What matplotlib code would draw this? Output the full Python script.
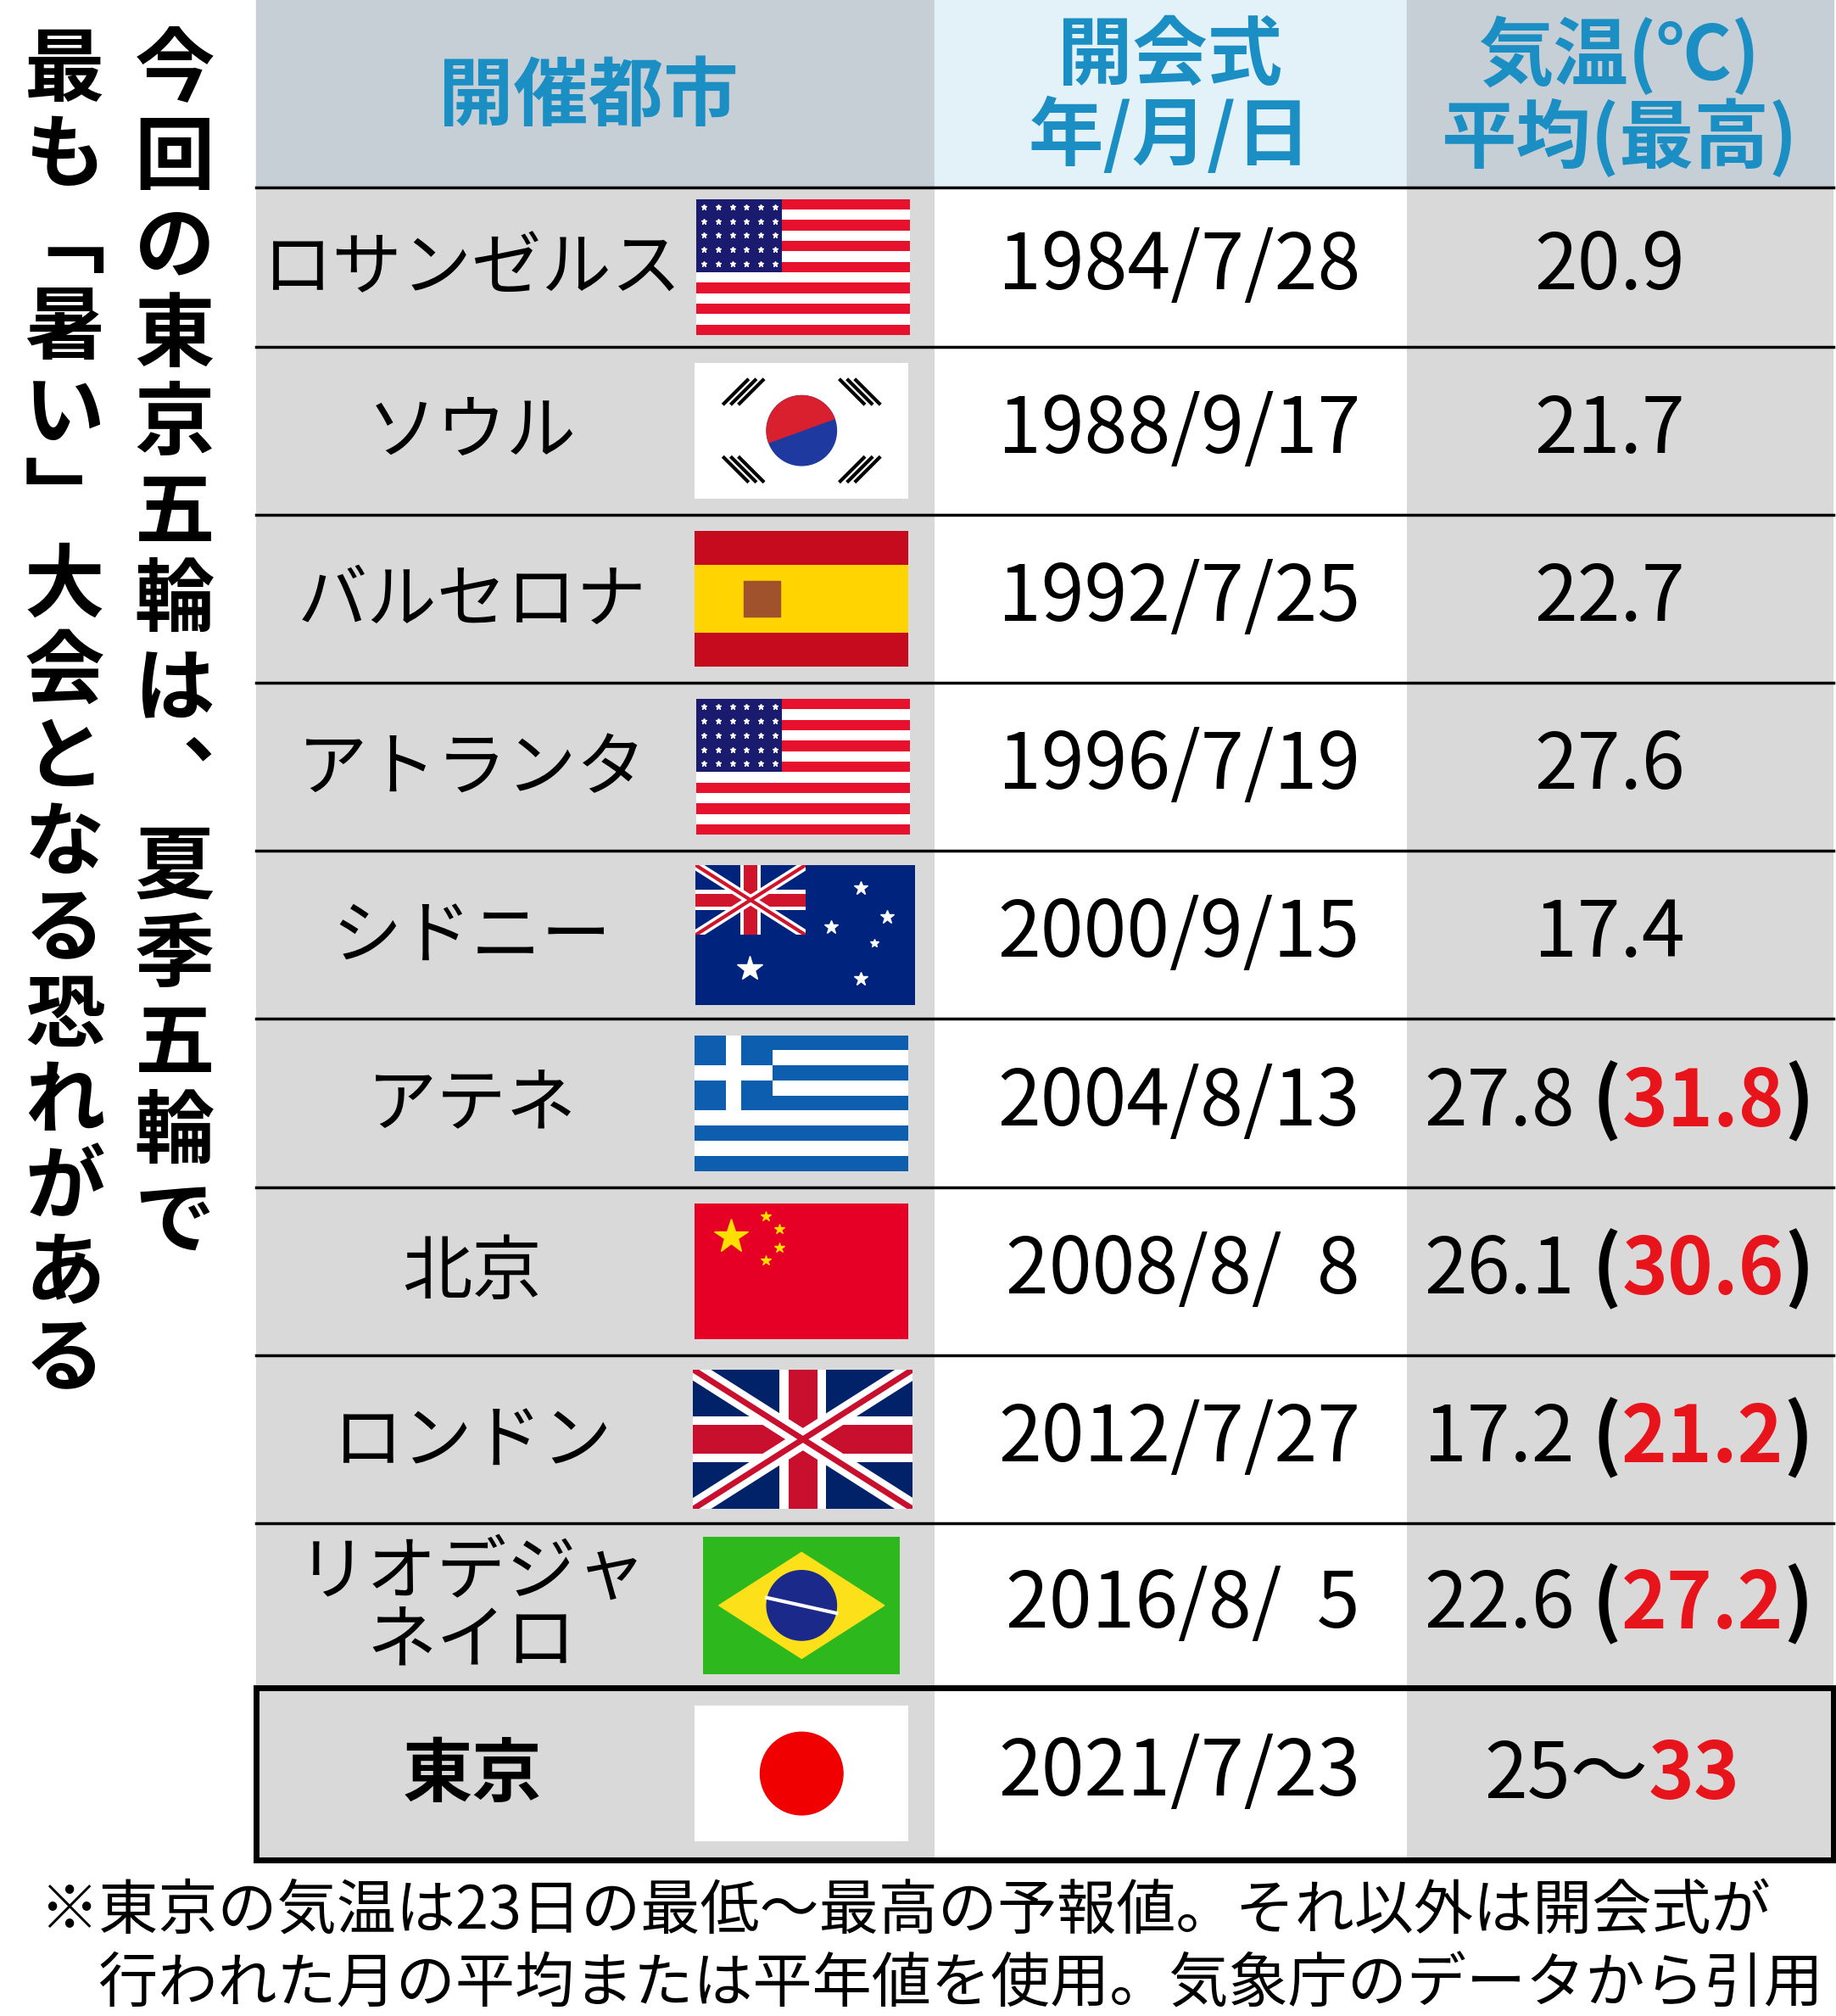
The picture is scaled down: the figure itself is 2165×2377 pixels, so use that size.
import matplotlib
matplotlib.use('Agg')
import matplotlib.pyplot as plt
from matplotlib.patches import Rectangle, Circle, Polygon, Wedge
import numpy as np

plt.rcParams['font.family'] = ['Noto Sans CJK JP', 'DejaVu Sans']

cities = ['ロサンゼルス', 'ソウル', 'バルセロナ', 'アトランタ', 'シドニー', 'アテネ',
          '北京', 'ロンドン', 'リオデジャ\nネイロ', '東京']
flags = ['us', 'kr', 'es', 'us', 'au', 'gr', 'cn', 'uk', 'br', 'jp']
dates = ['1984/7/28', '1988/9/17', '1992/7/25', '1996/7/19', '2000/9/15',
         '2004/8/13', '2008/8/  8', '2012/7/27', '2016/8/  5', '2021/7/23']
temp_avg = ['20.9', '21.7', '22.7', '27.6', '17.4', '27.8', '26.1', '17.2', '22.6']
temp_max = [None, None, None, None, None, '31.8', '30.6', '21.2', '27.2']
tokyo_lo, tokyo_hi = '25', '33'

title_right = '今回の東京五輪は︑夏季五輪で'
title_left = '最も﹁暑い﹂大会となる恐れがある'
footnote = ['※東京の気温は23日の最低～最高の予報値。それ以外は開会式が',
            '　行われた月の平均または平年値を使用。気象庁のデータから引用']

W, H = 1420, 1559
S = 2165 / W
fig = plt.figure(figsize=(21.65, 23.77), dpi=100)
ax = fig.add_axes([0, 0, 1, 1])
ax.set_xlim(0, W)
ax.set_ylim(H, 0)
ax.axis('off')

def fs(px):
    return px * S / 1.389

GREY = '#d9d9d9'
HGREY = '#c5cfd5'
HBLUE = '#e3f2f9'
BLUE = '#1b8fc3'
RED = '#e8141c'

X0, X1, X2, X3 = 198, 723, 1088, 1418
rows = [145, 268, 398, 528, 658, 788, 918, 1048, 1178, 1305, 1438]

# header
ax.add_patch(Rectangle((X0, 0), X1 - X0, 145, color=HGREY))
ax.add_patch(Rectangle((X1, 0), X2 - X1, 145, color=HBLUE))
ax.add_patch(Rectangle((X2, 0), X3 - X2, 145, color=HGREY))
ax.text(455, 75, '開催都市', ha='center', va='center', fontsize=fs(58), color=BLUE, weight='bold')
ax.text(905, 75, '開会式\n年/月/日', ha='center', va='center', fontsize=fs(58), color=BLUE,
        weight='bold', linespacing=1.05)
ax.text(1253, 75, '気温(℃)\n平均(最高)', ha='center', va='center', fontsize=fs(58), color=BLUE,
        weight='bold', linespacing=1.05)


def flag(kind, cx, cy):
    w, h = 165, 105
    if kind in ('au', 'uk'):
        w, h = 170, 108
    if kind == 'br':
        w, h = 152, 106
    x, y = cx - w / 2, cy - h / 2
    clip = Rectangle((x, y), w, h, transform=ax.transData)
    R = lambda a, b, c, d, col: ax.add_patch(Rectangle((x + a, y + b), c, d, color=col, lw=0))

    def L(xs, ys, **kw):
        ln, = ax.plot(xs, ys, solid_capstyle='butt', **kw)
        ln.set_clip_path(clip)

    if kind == 'us':
        for i in range(13):
            R(0, i * h / 13, w, h / 13, '#e8112d' if i % 2 == 0 else 'white')
        R(0, 0, w * 0.4, h * 7 / 13, '#1a1a6e')
        for i in range(5):
            for j in range(6):
                ax.plot(x + 6 + j * 11, y + 6 + i * 11, marker='*', color='white', ms=5)
    elif kind == 'kr':
        R(0, 0, w, h, 'white')
        ax.add_patch(Circle((cx, cy), 27, color='#1e3aa0'))
        ax.add_patch(Wedge((cx, cy), 27, 160, 340, color='#d8202e'))
        for dx, dy in [(-45, -30), (45, -30), (-45, 30), (45, 30)]:
            for k in range(3):
                off = (k - 1) * 6
                L([cx + dx - 10 + off, cx + dx + 10 + off],
                  [cy + dy + np.sign(dx * dy) * 10, cy + dy - np.sign(dx * dy) * 10],
                  color='black', lw=3)
    elif kind == 'es':
        R(0, 0, w, h, '#c60b1e')
        R(0, h / 4, w, h / 2, '#ffd400')
        ax.add_patch(Rectangle((x + 38, cy - 14), 28, 28, color='#a0522d'))
    elif kind == 'au':
        R(0, 0, w, h, '#00247d')
        uw, uh = 85, 54
        sub = Rectangle((x, y), uw, uh, transform=ax.transData)
        for col, lw in [('white', 8), ('#cf142b', 3)]:
            for ys in ([y, y + uh], [y + uh, y]):
                ln, = ax.plot([x, x + uw], ys, color=col, lw=lw)
                ln.set_clip_path(sub)
        R(uw / 2 - 8, 0, 16, uh, 'white'); R(0, uh / 2 - 8, uw, 16, 'white')
        R(uw / 2 - 5, 0, 10, uh, '#cf142b'); R(0, uh / 2 - 5, uw, 10, '#cf142b')
        ax.plot(x + 42, y + 80, marker='*', color='white', ms=22)
        for sx, sy, ms in [(128, 18, 12), (105, 48, 12), (148, 40, 12), (128, 88, 12), (138, 60, 7)]:
            ax.plot(x + sx, y + sy, marker='*', color='white', ms=ms)
    elif kind == 'gr':
        for i in range(9):
            R(0, i * h / 9, w, h / 9, '#0d5eaf' if i % 2 == 0 else 'white')
        R(0, 0, 60, h * 5 / 9, '#0d5eaf')
        R(24, 0, 12, h * 5 / 9, 'white')
        R(0, 2 * h / 9, 60, h / 9, 'white')
    elif kind == 'cn':
        R(0, 0, w, h, '#e60026')
        ax.plot(x + 28, y + 26, marker='*', color='#ffde00', ms=30)
        for sx, sy in [(55, 10), (65, 20), (65, 34), (55, 44)]:
            ax.plot(x + sx, y + sy, marker='*', color='#ffde00', ms=9)
    elif kind == 'uk':
        R(0, 0, w, h, '#012169')
        for col, lw in [('white', 16), ('#c8102e', 5)]:
            L([x, x + w], [y, y + h], color=col, lw=lw)
            L([x, x + w], [y + h, y], color=col, lw=lw)
        R(w / 2 - 18, 0, 36, h, 'white'); R(0, h / 2 - 18, w, 36, 'white')
        R(w / 2 - 11, 0, 22, h, '#c8102e'); R(0, h / 2 - 11, w, 22, '#c8102e')
    elif kind == 'br':
        R(0, 0, w, h, '#2db81e')
        ax.add_patch(Polygon([[x + 12, cy], [cx, y + 12], [x + w - 12, cy], [cx, y + h - 12]],
                             closed=True, color='#fbe01a'))
        ax.add_patch(Circle((cx, cy), 27, color='#1b2a8a'))
        ax.plot([cx - 27, cx + 27], [cy - 6, cy + 6], color='white', lw=3)
    elif kind == 'jp':
        R(0, 0, w, h, 'white')
        ax.add_patch(Circle((cx, cy), 32, color='#f00000'))


flag_cx = [621, 620, 620, 621, 623, 620, 620, 621, 620, 620]
for i in range(10):
    top, bot = rows[i], rows[i + 1]
    cy = (top + bot) / 2
    ax.add_patch(Rectangle((X0, top), X1 - X0, bot - top, color=GREY, lw=0))
    ax.add_patch(Rectangle((X2, top), X3 - X2, bot - top, color=GREY, lw=0))
    ax.plot([X0, X3], [top, top], color='black', lw=2.5)
    tokyo = i == 9
    ax.text(365, cy + 2, cities[i], ha='center', va='center', fontsize=fs(54),
            weight='bold' if tokyo else 'normal', linespacing=0.95)
    flag(flags[i], flag_cx[i], cy)
    ax.text(1052, cy, dates[i], ha='right', va='center', fontsize=fs(60))
    if tokyo:
        t = ax.text(1148, cy + 2, tokyo_lo + '～', ha='left', va='center', fontsize=fs(60))
        ax.annotate(tokyo_hi, xy=(1, 0), xycoords=t, va='bottom', ha='left',
                    fontsize=fs(60), color=RED, weight='bold')
    elif temp_max[i] is None:
        ax.text(1245, cy, temp_avg[i], ha='center', va='center', fontsize=fs(60))
    else:
        t = ax.text(1218, cy, temp_avg[i], ha='right', va='center', fontsize=fs(60))
        p1 = ax.annotate(' (', xy=(1, 0), xycoords=t, va='bottom', ha='left',
                         fontsize=fs(60), weight='bold')
        t2 = ax.annotate(temp_max[i], xy=(1, 0), xycoords=p1, va='bottom', ha='left',
                         fontsize=fs(60), color=RED, weight='bold')
        ax.annotate(')', xy=(1, 0), xycoords=t2, va='bottom', ha='left',
                    fontsize=fs(60), weight='bold')

ax.add_patch(Rectangle((X0, rows[9]), X3 - X0, rows[10] - rows[9], fill=False,
                       ec='black', lw=5))

# vertical title
def vtext(s, x, y0, step):
    for k, ch in enumerate(s):
        ax.text(x, y0 + k * step, ch, ha='center', va='center',
                fontsize=fs(62), weight='bold')

vtext(title_right, 135, 55, 68.5)
vtext(title_left, 50, 55, 66.5)

for k, line in enumerate(footnote):
    ax.text(30, 1478 + k * 57, line, ha='left', va='center', fontsize=fs(46))

fig.savefig('out.png', dpi=100)
